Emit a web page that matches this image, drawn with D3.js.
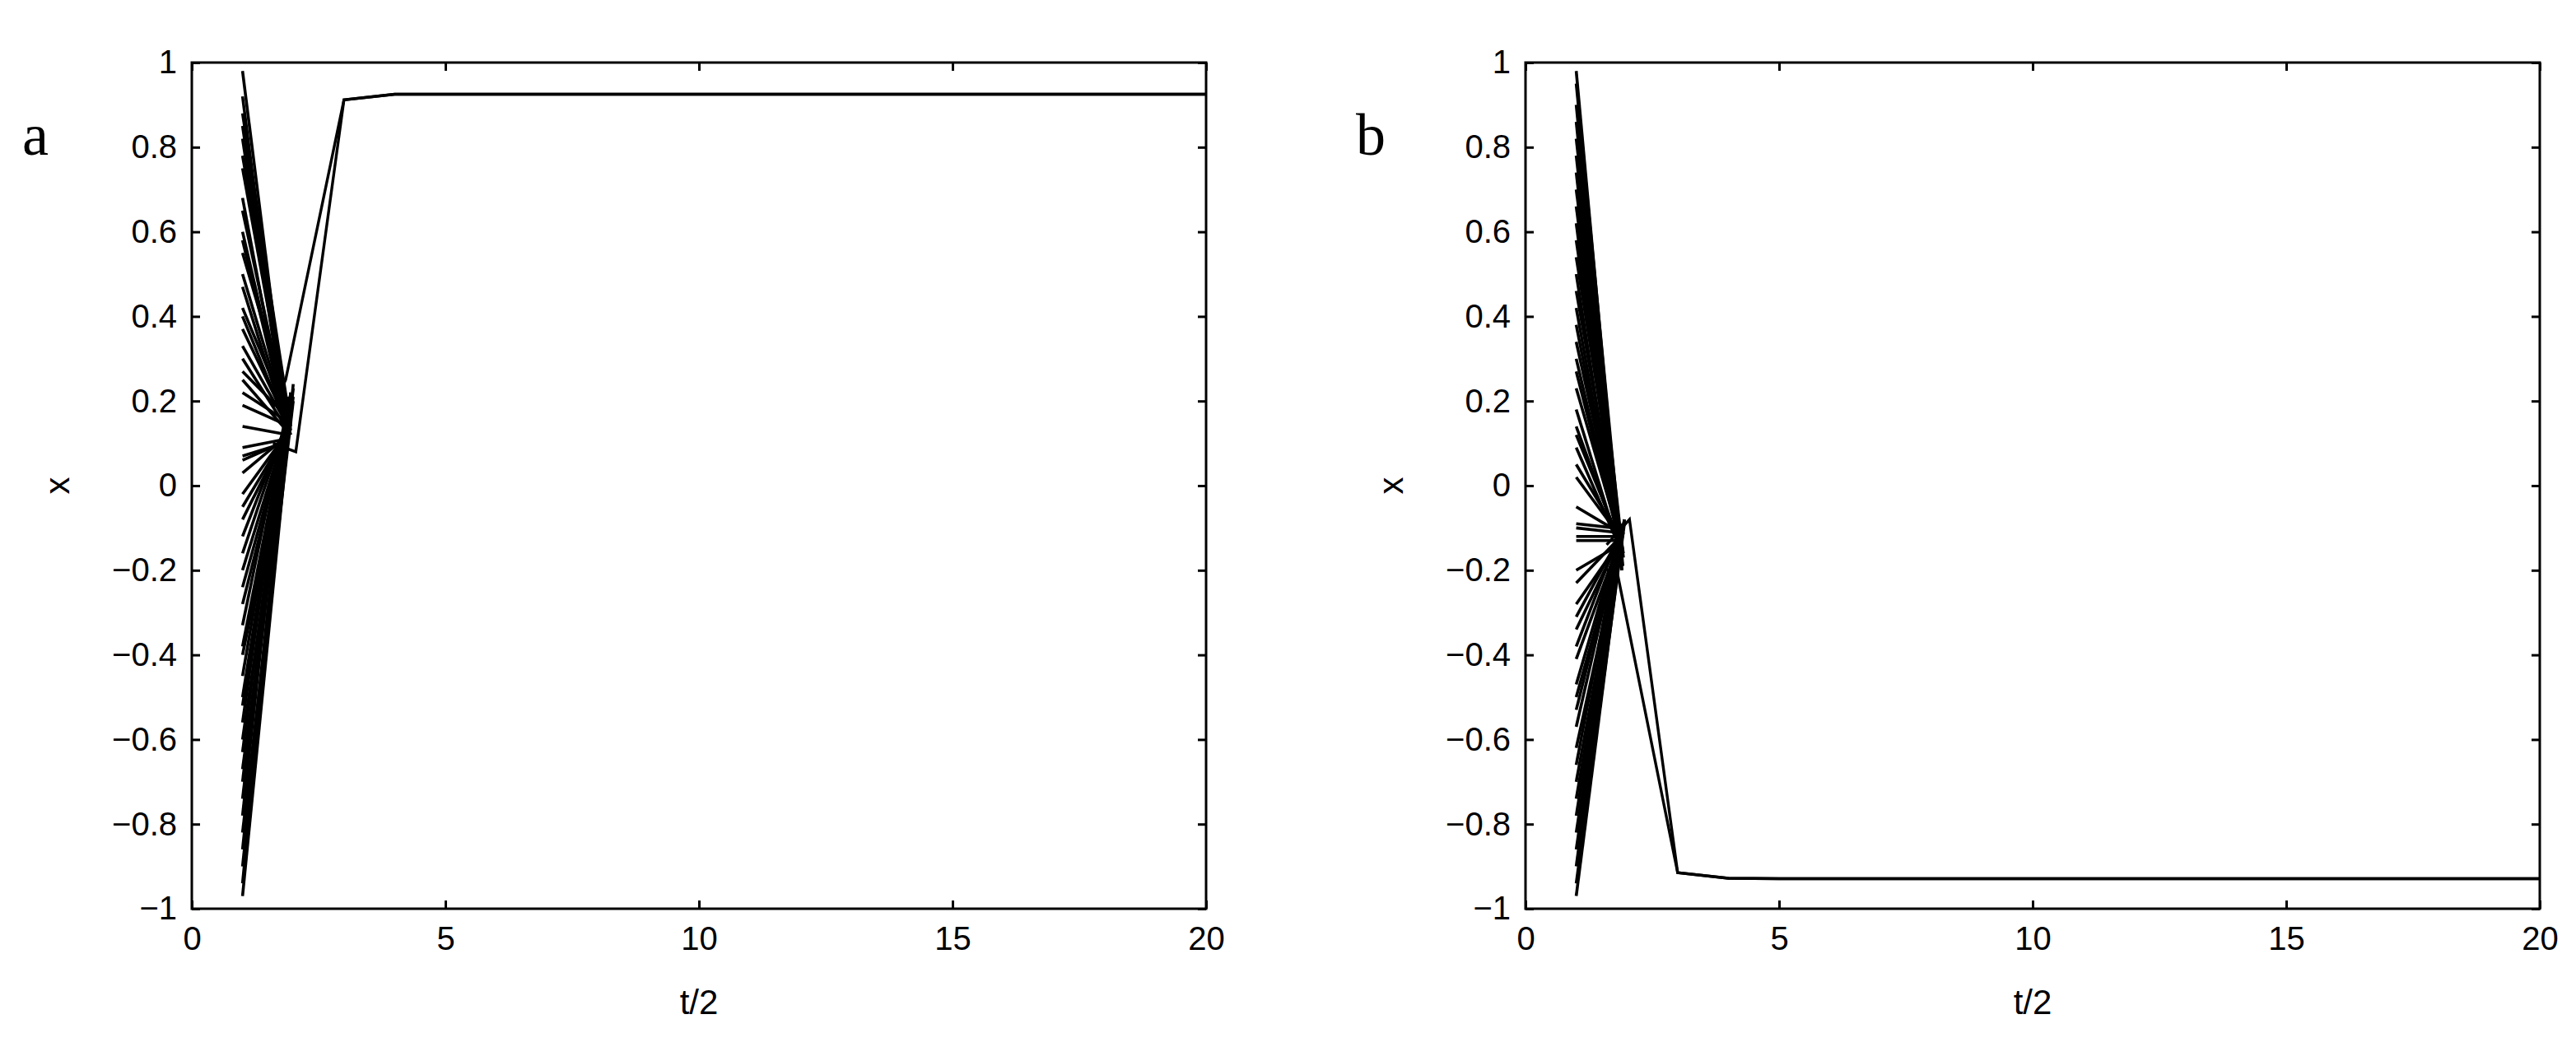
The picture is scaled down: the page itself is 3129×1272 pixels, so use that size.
<!DOCTYPE html>
<html><head><meta charset="utf-8">
<script src="https://cdn.jsdelivr.net/npm/d3@7"></script>
<style>body{margin:0;background:#fff}</style>
</head><body>
<svg id="c" width="3129" height="1272"></svg>
<script>
const xTicks=[0,5,10,15,20];
const yTicks=[-1,-0.8,-0.6,-0.4,-0.2,0,0.2,0.4,0.6,0.8,1];
const tailSteps=[3,4,5,6,7,8,9,10,11,12,13,14,15,16,17,18,19,20];
// Panel a
const startA=[0.98,0.92,0.88,0.85,0.82,0.78,0.75,0.68,0.65,0.6,0.58,0.55,0.5,0.47,0.42,0.4,0.37,0.33,0.3,0.27,0.25,0.22,0.19,0.14,0.09,0.07,0.06,0.03,-0.02,-0.05,-0.08,-0.12,-0.16,-0.2,-0.24,-0.28,-0.33,-0.38,-0.4,-0.45,-0.5,-0.52,-0.56,-0.6,-0.63,-0.67,-0.7,-0.74,-0.78,-0.82,-0.86,-0.9,-0.94,-0.97];
const midA=[0.12,0.13,0.14,0.12,0.15,0.13,0.16,0.12,0.14,0.15,0.13,0.17,0.12,0.14,0.16,0.13,0.15,0.14,0.12,0.16,0.13,0.15,0.14,0.12,0.11,0.1,0.1,0.11,0.12,0.13,0.14,0.15,0.16,0.17,0.15,0.16,0.18,0.17,0.16,0.18,0.19,0.17,0.2,0.18,0.19,0.21,0.2,0.22,0.21,0.2,0.22,0.23,0.22,0.24];
const midTA=[1.9,1.85,1.95,1.9,1.85,1.95,1.9,1.88,1.92,1.87,1.9,1.93,1.95,1.86,1.9,1.92,1.88,1.9,1.95,1.9,1.87,1.9,1.93,1.9,1.85,1.8,1.75,1.8,1.85,1.9,1.92,1.88,1.9,1.95,1.9,1.92,1.88,1.9,1.95,1.9,1.92,1.88,1.9,1.95,1.9,2.0,1.9,1.95,1.9,2.0,1.95,2.0,1.95,2.0];
const tailA=[0.912,0.925,0.925,0.925,0.925,0.925,0.925,0.925,0.925,0.925,0.925,0.925,0.925,0.925,0.925,0.925,0.925,0.925];
const pivotA=[[2.05,0.08],[1.85,0.25]];
// Panel b
const startB=[0.98,0.95,0.9,0.86,0.82,0.78,0.74,0.7,0.66,0.62,0.58,0.54,0.5,0.46,0.42,0.38,0.34,0.3,0.27,0.23,0.18,0.14,0.12,0.09,0.05,0.02,-0.05,-0.09,-0.1,-0.12,-0.13,-0.2,-0.23,-0.28,-0.31,-0.34,-0.38,-0.41,-0.47,-0.5,-0.53,-0.57,-0.62,-0.66,-0.7,-0.74,-0.78,-0.82,-0.86,-0.9,-0.94,-0.97];
const midB=[-0.2,-0.19,-0.18,-0.2,-0.17,-0.19,-0.18,-0.16,-0.17,-0.18,-0.15,-0.16,-0.17,-0.15,-0.14,-0.16,-0.15,-0.13,-0.14,-0.12,-0.13,-0.14,-0.12,-0.13,-0.12,-0.11,-0.1,-0.1,-0.11,-0.12,-0.13,-0.14,-0.12,-0.13,-0.11,-0.12,-0.1,-0.11,-0.1,-0.12,-0.09,-0.1,-0.11,-0.09,-0.1,-0.08,-0.1,-0.09,-0.08,-0.1,-0.09,-0.08];
const midTB=[1.9,1.92,1.88,1.9,1.93,1.9,1.88,1.92,1.9,1.87,1.9,1.93,1.88,1.9,1.85,1.88,1.9,1.85,1.87,1.85,1.8,1.85,1.82,1.8,1.85,1.8,1.7,1.75,1.75,1.8,1.85,1.85,1.88,1.87,1.9,1.88,1.9,1.92,1.9,1.88,1.92,1.9,1.93,1.9,1.92,1.95,1.9,1.93,1.95,1.9,1.95,1.95];
const tailB=[-0.915,-0.928,-0.929,-0.929,-0.929,-0.929,-0.929,-0.929,-0.929,-0.929,-0.929,-0.929,-0.929,-0.929,-0.929,-0.929,-0.929,-0.929];
const pivotB=[[2.05,-0.08],[1.8,-0.2]];

const svg=d3.select("#c");
const SANS="Liberation Sans, Arial, sans-serif";
function panel(ox,label,start,mid,midT,tail,pivots){
  const L=ox,R=ox+1232,T=76,B=1104;
  const x=d3.scaleLinear().domain([0,20]).range([L,R]);
  const y=d3.scaleLinear().domain([-1,1]).range([B,T]);
  const g=svg.append("g");
  const line=d3.line().x(d=>x(d[0])).y(d=>y(d[1]));
  const tailPts=tailSteps.map((t,i)=>[t,tail[i]]);
  start.forEach((s,i)=>{
    g.append("path").attr("d",line([[1,s],[midT[i],mid[i]]])).attr("fill","none").attr("stroke","#000").attr("stroke-width",3.6);
  });
  pivots.forEach(p=>{
    g.append("path").attr("d",line([[1.6,(p[1]+mid[0])/2],p].concat(tailPts))).attr("fill","none").attr("stroke","#000").attr("stroke-width",3.4);
  });
  g.append("rect").attr("x",L).attr("y",T).attr("width",R-L).attr("height",B-T).attr("fill","none").attr("stroke","#000").attr("stroke-width",3);
  const ax=g.append("g").attr("transform",`translate(0,${B})`).call(d3.axisBottom(x).tickValues(xTicks).tickSizeInner(-10).tickSizeOuter(0).tickPadding(22));
  const axT=g.append("g").attr("transform",`translate(0,${T})`).call(d3.axisTop(x).tickValues(xTicks).tickSizeInner(-10).tickSizeOuter(0).tickFormat(""));
  const ay=g.append("g").attr("transform",`translate(${L},0)`).call(d3.axisLeft(y).tickValues(yTicks).tickSizeInner(-10).tickSizeOuter(0).tickPadding(18).tickFormat(d=>d===0?"0":(d<0?"\u2212":"")+d3.format("")(Math.abs(d))));
  const ayR=g.append("g").attr("transform",`translate(${R},0)`).call(d3.axisRight(y).tickValues(yTicks).tickSizeInner(-10).tickSizeOuter(0).tickFormat(""));
  [ax,axT,ay,ayR].forEach(a=>{a.select(".domain").remove();a.selectAll("line").attr("stroke","#000").attr("stroke-width",3);a.selectAll("text").style("font-size","40px").attr("fill","#000").style("font-family",SANS);});
  g.append("text").attr("x",(L+R)/2).attr("y",1232).attr("text-anchor","middle").style("font-size","42px").style("font-family",SANS).text("t/2");
  g.append("text").attr("transform",`translate(${L-160},${y(0)}) rotate(-90)`).attr("text-anchor","middle").attr("dominant-baseline","middle").style("font-size","42px").style("font-family",SANS).text("x");
  g.append("text").attr("x",L-206).attr("y",188).style("font-family","Liberation Serif, Times New Roman, serif").style("font-size","72px").text(label);
}
panel(233,"a",startA,midA,midTA,tailA,pivotA);
panel(1853,"b",startB,midB,midTB,tailB,pivotB);
</script>
</body></html>
